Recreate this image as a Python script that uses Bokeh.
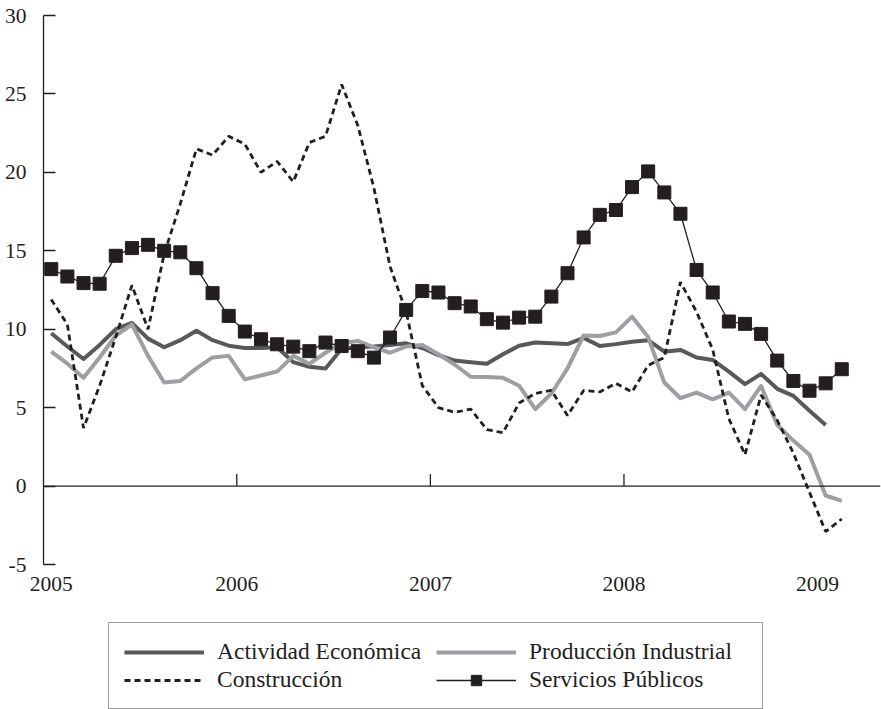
import math
from bokeh.plotting import figure
from bokeh.layouts import column
from bokeh.models import FixedTicker, Legend, LegendItem, Range1d, Span
from bokeh.embed import file_html
from bokeh.resources import INLINE

# ---------------- data (monthly, Jan 2005 onwards) ----------------
year_labels = ["2005", "2006", "2007", "2008", "2009"]
y_ticks = [-5, 0, 5, 10, 15, 20, 25, 30]

actividad = [9.74, 8.9, 8.1, 9.0, 10.0, 10.4, 9.4, 8.85, 9.3, 9.9,
             9.3, 8.95, 8.8, 8.8, 8.85, 7.9, 7.6, 7.5, 8.75, 8.85,
             8.9, 9.0, 9.1, 8.8, 8.35, 8.0, 7.9, 7.8, 8.4, 8.95,
             9.15, 9.1, 9.05, 9.45, 8.93, 9.05, 9.2, 9.3, 8.57, 8.68,
             8.2, 8.04, 7.3, 6.5, 7.15, 6.2, 5.75, 4.8, 3.9]

produccion = [8.57, 7.8, 6.9, 8.2, 9.6, 10.3, 8.3, 6.6, 6.7, 7.5,
              8.2, 8.3, 6.8, 7.05, 7.3, 8.3, 7.8, 8.5, 9.1, 9.25,
              8.85, 8.5, 8.9, 9.0, 8.4, 7.75, 6.97, 6.95, 6.9, 6.4,
              4.9, 5.9, 7.5, 9.6, 9.57, 9.8, 10.8, 9.5, 6.6, 5.6,
              5.96, 5.53, 5.96, 4.9, 6.38, 3.9, 2.9, 2.0, -0.6, -0.94]

construccion = [11.9, 10.3, 3.7, 6.4, 9.5, 12.8, 10.0, 14.8, 18.0, 21.5,
                21.1, 22.3, 21.8, 20.0, 20.7, 19.4, 21.9, 22.3, 25.6, 23.0,
                19.0, 14.0, 11.1, 6.4, 5.0, 4.7, 4.9, 3.6, 3.4, 5.3,
                5.9, 6.1, 4.5, 6.1, 6.0, 6.55, 6.0, 7.7, 8.2, 13.0,
                11.1, 8.7, 4.3, 2.0, 5.8, 4.2, 2.1, -0.4, -2.9, -2.1]

servicios = [13.83, 13.36, 12.94, 12.9, 14.68, 15.17, 15.38, 15.0, 14.9, 13.89,
             12.3, 10.85, 9.85, 9.36, 9.04, 8.89, 8.6, 9.15, 8.93, 8.6,
             8.19, 9.47, 11.23, 12.44, 12.34, 11.66, 11.45, 10.64, 10.42, 10.74,
             10.8, 12.08, 13.57, 15.85, 17.29, 17.6, 19.06, 20.06, 18.72, 17.36,
             13.78, 12.34, 10.49, 10.34, 9.7, 8.0, 6.7, 6.08, 6.55, 7.45]

series_names = ["Actividad Económica", "Producción Industrial", "Construcción", "Servicios Públicos"]

# ---------------- styling ----------------
FONT = "Liberation Serif"
INK = "#231f20"
DARK = "#58595b"
LIGHT = "#9d9fa2"

STYLES = [
    dict(line_color=DARK, line_width=4, line_join="round"),
    dict(line_color=LIGHT, line_width=4, line_join="round"),
    dict(line_color=INK, line_width=2.8, line_dash="6 4"),
    dict(line_color=INK, line_width=1.3),
]
MARKER = dict(marker="square", size=13, fill_color=INK, line_color=INK)

def idx(vals):
    return list(range(len(vals)))

W = 881
p = figure(width=W, height=620, output_backend="svg", toolbar_location=None,
           x_range=Range1d(-0.48, 51.4), y_range=Range1d(y_ticks[0], y_ticks[-1]),
           min_border_left=43, min_border_right=1, min_border_top=15, min_border_bottom=56)
p.outline_line_color = None
p.grid.grid_line_color = None

# zero line
p.add_layout(Span(location=0, dimension="width", line_color=INK, line_width=1.3))

p.line(idx(actividad), actividad, **STYLES[0])
p.line(idx(produccion), produccion, **STYLES[1])
p.line(idx(construccion), construccion, **STYLES[2])
p.line(idx(servicios), servicios, **STYLES[3])
p.scatter(idx(servicios), servicios, **MARKER)

# y axis
ya = p.yaxis[0]
ya.ticker = FixedTicker(ticks=y_ticks)
ya.major_label_overrides = {t: str(t) for t in y_ticks}
ya.major_tick_in = 12
ya.major_tick_out = 0
ya.minor_tick_line_color = None
ya.axis_line_color = INK
ya.axis_line_width = 1.3
ya.major_tick_line_color = INK
ya.major_tick_line_width = 1.3
ya.major_label_standoff = 17
ya.major_label_text_font = FONT
ya.major_label_text_font_size = "21.5px"
ya.major_label_text_color = INK

# year positions: boundary between December and January (first one clamped to start)
year_pos = [max(0, 12 * i - 0.5) for i in range(len(year_labels))]

xa = p.xaxis[0]
xa.ticker = FixedTicker(ticks=year_pos)
xa.major_label_overrides = {pos: lab for pos, lab in zip(year_pos, year_labels)}
xa.axis_line_color = None
xa.major_tick_line_color = None
xa.minor_tick_line_color = None
xa.major_tick_in = 0
xa.major_tick_out = 0
xa.major_label_standoff = 12
xa.major_label_text_font = FONT
xa.major_label_text_font_size = "21.5px"
xa.major_label_text_color = INK

# small upward year ticks on the zero line
inner_years = year_pos[1:4]
p.ray(x=inner_years, y=[0] * len(inner_years), length=12, length_units="screen",
      angle=math.pi / 2, line_color=INK, line_width=1.3)

# ---------------- legend strip below the chart ----------------
# (series re-drawn here only as legend keys; the view range keeps them off-screen)
lg = figure(width=W, height=89, output_backend="svg", toolbar_location=None,
            x_axis_location=None, y_axis_location=None,
            x_range=Range1d(-1000, -999), y_range=Range1d(-1000, -999),
            min_border_left=0, min_border_right=0, min_border_top=0, min_border_bottom=0)
lg.outline_line_color = None
lg.grid.grid_line_color = None

k1 = lg.line(idx(actividad), actividad, **STYLES[0])
k2 = lg.line(idx(produccion), produccion, **STYLES[1])
k3 = lg.line(idx(construccion), construccion, **STYLES[2])
k4l = lg.line(idx(servicios), servicios, **STYLES[3])
k4s = lg.scatter(idx(servicios), servicios, **MARKER)

legend = Legend(items=[
    LegendItem(label=series_names[0], renderers=[k1]),
    LegendItem(label=series_names[1], renderers=[k2]),
    LegendItem(label=series_names[2], renderers=[k3]),
    LegendItem(label=series_names[3], renderers=[k4l, k4s]),
], ncols=2, orientation="horizontal", location=(65, 0),
    label_text_font=FONT, label_text_font_size="23.5px", label_text_color=INK,
    glyph_width=80, glyph_height=26, label_height=26, label_width=218,
    label_standoff=13, spacing=1, padding=15,
    border_line_color="#3a3a3a", border_line_width=1.3,
    background_fill_color="white", background_fill_alpha=1.0)
lg.add_layout(legend, "center")

layout = column(p, lg, spacing=0)
open("out.html", "w").write(file_html(layout, INLINE))
